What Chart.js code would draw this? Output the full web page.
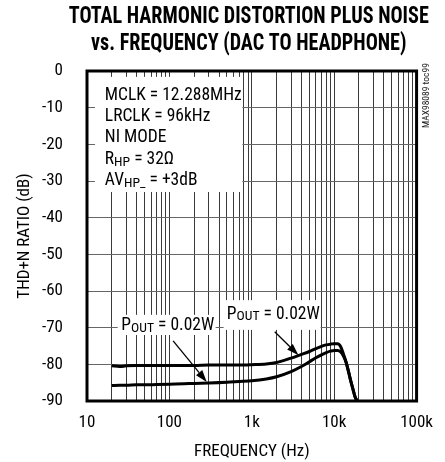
<!DOCTYPE html>
<html>
<head>
<meta charset="utf-8">
<script src="https://cdn.jsdelivr.net/npm/chart.js@4.4.1/dist/chart.umd.min.js"></script>
<style>
html, body { margin: 0; padding: 0; background: #fff; }
</style>
</head>
<body>
<canvas id="thdChart" width="445" height="462"></canvas>
<script>
const FONT = '"Liberation Sans Narrow", "Roboto Condensed", "DejaVu Sans Condensed", "Liberation Sans", sans-serif';

// frequency (Hz) and THD+N (dB)
const freqHz = [20, 25, 30, 40, 50, 70, 100, 150, 200, 300, 500, 700, 1000, 1500, 2000, 3000, 4000, 5000, 6000, 7000, 8000, 9000, 10000, 11000, 12000, 13000, 14000, 15000, 16000, 17000, 18000, 19000];
const thdUpper = [-80.4, -80.6, -80.4, -80.3, -80.3, -80.3, -80.3, -80.3, -80.3, -80.2, -80.2, -80.2, -80.1, -79.9, -79.5, -78.3, -77.3, -76.5, -75.7, -75.1, -74.7, -74.5, -74.4, -74.4, -75.2, -77.3, -79.5, -82.2, -84.8, -87.0, -89.0, -90.0];
const thdLower = [-85.8, -85.7, -85.7, -85.6, -85.6, -85.5, -85.4, -85.3, -85.2, -85.1, -84.9, -84.7, -84.5, -84.0, -83.4, -82.0, -80.6, -79.3, -78.2, -77.4, -76.8, -76.4, -76.2, -76.2, -76.6, -77.8, -79.6, -82.2, -84.8, -87.0, -89.0, -90.0];

const yMin = -90, yMax = 0, yStep = 10;
const xMin = 10, xMax = 100000;
const xTickLabels = { 10: '10', 100: '100', 1000: '1k', 10000: '10k', 100000: '100k' };

const titleLines = ['TOTAL HARMONIC DISTORTION PLUS NOISE', 'vs. FREQUENCY (DAC TO HEADPHONE)'];
const infoLines = [
  [{ t: 'MCLK = 12.288MHz' }],
  [{ t: 'LRCLK = 96kHz' }],
  [{ t: 'NI MODE' }],
  [{ t: 'R' }, { t: 'HP', sub: true }, { t: ' = 32Ω' }],
  [{ t: 'AV' }, { t: 'HP_', sub: true }, { t: ' = +3dB' }]
];
const poutText = [{ t: 'P' }, { t: 'OUT', sub: true }, { t: ' = 0.02W' }];

// annotation anchors in data units (Hz, dB)
const infoBox = { f1: 12.5, f2: 769, db1: -1.6, db2: -33 };
const infoAt = { f: 16.45, db: -7.9 };
const labels = [
  { f: 26.1, db: -69.5, box: { f1: 23.6, f2: 364, db1: -66.5, db2: -72.0 }, from: [111, -73.6], to: [284, -84.8] },
  { f: 498, db: -66.4, box: { f1: 455, f2: 6839, db1: -62.5, db2: -70.6 }, from: [1898, -71.1], to: [3690, -77.5] }
];

// grid at 1..9 x each decade
const xGrid = [];
for (let d = xMin; d < xMax; d *= 10) {
  for (let m = 1; m < 10; m++) xGrid.push(d * m);
}
xGrid.push(xMax);

function richText(ctx, parts, x, y, size) {
  let cx = x;
  parts.forEach(p => {
    const s = p.sub ? size * 0.78 : size;
    ctx.font = s + 'px ' + FONT;
    ctx.fillText(p.t, cx, p.sub ? y + 2.5 : y);
    cx += ctx.measureText(p.t).width;
  });
  return cx - x;
}

const notesPlugin = {
  id: 'notes',
  afterDatasetsDraw(chart) {
    const { ctx, chartArea: a, scales: { x, y } } = chart;
    ctx.save();
    ctx.fillStyle = '#fff';
    // info box
    let bx = x.getPixelForValue(infoBox.f1), by = y.getPixelForValue(infoBox.db1);
    ctx.fillRect(bx, by, x.getPixelForValue(infoBox.f2) - bx, y.getPixelForValue(infoBox.db2) - by);
    labels.forEach(l => {
      const lx = x.getPixelForValue(l.box.f1), ly = y.getPixelForValue(l.box.db1);
      ctx.fillStyle = '#fff';
      ctx.fillRect(lx, ly, x.getPixelForValue(l.box.f2) - lx, y.getPixelForValue(l.box.db2) - ly);
    });

    ctx.fillStyle = '#000';
    ctx.textBaseline = 'alphabetic';
    ctx.textAlign = 'left';
    const tx = x.getPixelForValue(infoAt.f);
    const ty = y.getPixelForValue(infoAt.db);
    infoLines.forEach((ln, i) => richText(ctx, ln, tx, ty + i * 21.2, 17.5));

    ctx.textBaseline = 'middle';
    labels.forEach(l => {
      richText(ctx, poutText, x.getPixelForValue(l.f), y.getPixelForValue(l.db), 17.5);
      // arrow
      const x0 = x.getPixelForValue(l.from[0]), y0 = y.getPixelForValue(l.from[1]);
      const x1 = x.getPixelForValue(l.to[0]), y1 = y.getPixelForValue(l.to[1]);
      const ang = Math.atan2(y1 - y0, x1 - x0);
      const hl = 12, hw = 4;
      ctx.strokeStyle = '#000';
      ctx.lineWidth = 1.3;
      ctx.beginPath();
      ctx.moveTo(x0, y0);
      ctx.lineTo(x1 - hl * Math.cos(ang), y1 - hl * Math.sin(ang));
      ctx.stroke();
      ctx.beginPath();
      ctx.moveTo(x1, y1);
      ctx.lineTo(x1 - hl * Math.cos(ang) + hw * Math.sin(ang), y1 - hl * Math.sin(ang) - hw * Math.cos(ang));
      ctx.lineTo(x1 - hl * Math.cos(ang) - hw * Math.sin(ang), y1 - hl * Math.sin(ang) + hw * Math.cos(ang));
      ctx.closePath();
      ctx.fill();
    });

    // frame
    ctx.lineWidth = 3;
    ctx.strokeStyle = '#000';
    ctx.strokeRect(a.left, a.top, a.right - a.left, a.bottom - a.top);

    // title, centred over the plot, squeezed to a condensed width
    ctx.font = 'bold 23px ' + FONT;
    ctx.textAlign = 'center';
    ctx.textBaseline = 'middle';
    const squeeze = 360 / ctx.measureText(titleLines[0]).width;
    ctx.save();
    ctx.translate((a.left + a.right) / 2 - 3, 0);
    ctx.scale(squeeze, 1);
    ctx.fillText(titleLines[0], 0, 17);
    ctx.fillText(titleLines[1], 0, 44);
    ctx.restore();

    // part number, vertical
    ctx.save();
    ctx.translate(a.right + 10.5, a.top + 57);
    ctx.rotate(-Math.PI / 2);
    ctx.font = '9.5px ' + FONT;
    ctx.fillStyle = '#222';
    ctx.textAlign = 'left';
    ctx.fillText('MAX98089 toc99', 0, 0);
    ctx.restore();
    ctx.restore();
  }
};

const lineStyle = { borderColor: '#000', borderWidth: 3, pointRadius: 0, fill: false, cubicInterpolationMode: 'monotone' };

const ctx = document.getElementById('thdChart').getContext('2d');
const thdChart = new Chart(ctx, {
  type: 'line',
  data: {
    datasets: [
      Object.assign({ label: 'POUT = 0.02W', data: freqHz.map((f, i) => ({ x: f, y: thdUpper[i] })) }, lineStyle),
      Object.assign({ label: 'POUT = 0.02W', data: freqHz.map((f, i) => ({ x: f, y: thdLower[i] })) }, lineStyle)
    ]
  },
  options: {
    responsive: false,
    animation: false,
    layout: { padding: { left: 0, right: 25, top: 71, bottom: 0 } },
    plugins: {
      legend: { display: false },
      tooltip: { enabled: false },
      title: { display: false }
    },
    scales: {
      x: {
        type: 'logarithmic',
        min: xMin,
        max: xMax,
        afterBuildTicks: s => { s.ticks = xGrid.map(v => ({ value: v })); },
        afterFit: s => { s.height = 61; },
        ticks: {
          autoSkip: false,
          maxRotation: 0,
          padding: 12,
          color: '#000',
          font: { family: FONT, size: 17 },
          callback: v => xTickLabels[v] ?? ''
        },
        grid: { color: '#3a3a3a', lineWidth: 1, drawTicks: false },
        border: { display: false },
        title: {
          display: true,
          text: 'FREQUENCY (Hz)',
          color: '#000',
          font: { family: FONT, size: 17, lineHeight: 1.2 },
          padding: { top: 0, bottom: 0 }
        }
      },
      y: {
        min: yMin,
        max: yMax,
        afterFit: s => { s.width = 87; },
        ticks: {
          stepSize: yStep,
          padding: 24,
          color: '#000',
          font: { family: FONT, size: 17 }
        },
        grid: { color: '#666', lineWidth: 1, drawTicks: false },
        border: { display: false },
        title: {
          display: true,
          text: 'THD+N RATIO (dB)',
          color: '#000',
          font: { family: FONT, size: 17, lineHeight: 1.2 },
          padding: { top: 15, bottom: 0 }
        }
      }
    }
  },
  plugins: [notesPlugin]
});
</script>
</body>
</html>
